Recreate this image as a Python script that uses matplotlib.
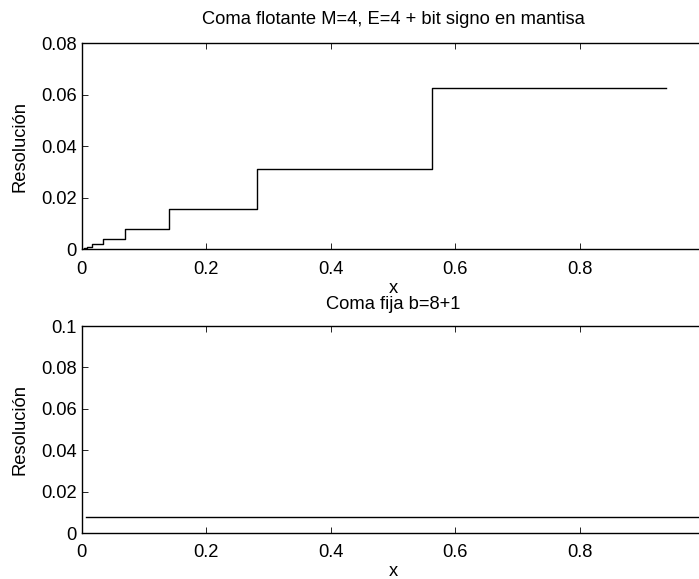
import matplotlib.pyplot as plt

plt.rcParams['font.family'] = ['Liberation Sans', 'DejaVu Sans']

# Coma flotante: inicio de cada tramo y resolución en ese tramo
x_flot = [0.0, 0.0011, 0.0022, 0.0044, 0.0088, 0.0176, 0.0352, 0.0703, 0.1406, 0.2813, 0.5625, 0.9375]
res_flot = [0.00006, 0.00012, 0.00024, 0.00049, 0.00098, 0.00195, 0.0039, 0.0078, 0.0156, 0.03125, 0.0625, 0.0625]

# Coma fija: resolución constante
x_fija = [0.0078, 0.9922]
res_fija = [0.0078125, 0.0078125]

xticks = [0, 0.2, 0.4, 0.6, 0.8]
fs = 13.2


def estilo(ax, ylim, yticks, ytick_labels):
    ax.set_xlim(0, 1)
    ax.set_ylim(*ylim)
    ax.set_xticks(xticks)
    ax.set_xticklabels(['0', '0.2', '0.4', '0.6', '0.8'])
    ax.set_yticks(yticks)
    ax.set_yticklabels(ytick_labels)
    ax.tick_params(direction='in', length=4.3, width=0.6, top=True, right=True,
                   labelsize=fs)
    ax.tick_params(axis='x', pad=8)
    ax.tick_params(axis='y', pad=3.5)
    for s in ax.spines.values():
        s.set_linewidth(1.0)
    ax.set_xlabel('x', fontsize=fs, labelpad=1.5)
    ax.set_ylabel('Resolución', fontsize=fs, labelpad=9)


fig = plt.figure(figsize=(6.99, 5.79), dpi=100)

ax1 = fig.add_axes([0.1166, 0.5691, 0.8913, 0.3566])
ax1.step(x_flot, res_flot, where='post', color='black', linewidth=1.0)
estilo(ax1, (0, 0.08), [0, 0.02, 0.04, 0.06, 0.08], ['0', '0.02', '0.04', '0.06', '0.08'])
ax1.set_title('Coma flotante M=4, E=4 + bit signo en mantisa', fontsize=fs, pad=14)

ax2 = fig.add_axes([0.1166, 0.0794, 0.8913, 0.3575])
ax2.plot(x_fija, res_fija, color='black', linewidth=1.0)
estilo(ax2, (0, 0.1), [0, 0.02, 0.04, 0.06, 0.08, 0.1], ['0', '0.02', '0.04', '0.06', '0.08', '0.1'])
ax2.set_title('Coma fija b=8+1', fontsize=fs, pad=12)

fig.savefig('out.png', dpi=100)
